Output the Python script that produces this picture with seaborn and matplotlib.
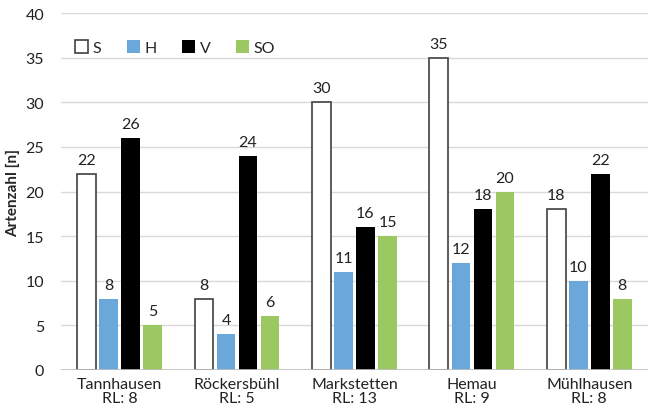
import pandas as pd
import numpy as np
import matplotlib.pyplot as plt
import seaborn as sns

# Artenzahl per site and group
sites = ['Tannhausen', 'Röckersbühl', 'Markstetten', 'Hemau', 'Mühlhausen']
rl_counts = [8, 5, 13, 9, 8]
groups = ['S', 'H', 'V', 'SO']
s_values = [22, 8, 30, 35, 18]
h_values = [8, 4, 11, 12, 10]
v_values = [26, 24, 16, 18, 22]
so_values = [5, 6, 15, 20, 8]

colors = {'S': '#FFFFFF', 'H': '#6AA8DC', 'V': '#000000', 'SO': '#9CC862'}

# long format table for seaborn
rows = []
for g, vals in zip(groups, [s_values, h_values, v_values, so_values]):
    for site, v in zip(sites, vals):
        rows.append({'Site': site, 'Gruppe': g, 'n': v})
df = pd.DataFrame(rows)

sns.set_theme(style='white')
plt.rcParams['font.family'] = ['Lato', 'DejaVu Sans']

fig = plt.figure(figsize=(6.48, 4.14), dpi=100)
ax = fig.add_axes([0.094, 0.104, 0.906, 0.862])

sns.barplot(data=df, x='Site', y='n', hue='Gruppe', hue_order=groups,
            palette=colors, saturation=1, width=0.75, gap=0.15, ax=ax,
            legend=True)

# white S bars get a dark outline
for bar in ax.patches[:len(sites)]:
    bar.set_edgecolor('#404040')
    bar.set_linewidth(1.2)
for bar in ax.patches[len(sites):len(sites) * len(groups)]:
    bar.set_linewidth(0)

for cont in ax.containers:
    ax.bar_label(cont, padding=5, fontsize=11.5, color='#222222')

ax.set_ylim(0, 40)
ax.set_yticks(range(0, 41, 5))
ax.set_xlim(-0.5, 4.5)
ax.yaxis.grid(True, color='#D9D9D9', linewidth=1)
ax.set_axisbelow(True)
for s in ['top', 'right', 'left', 'bottom']:
    ax.spines[s].set_visible(False)
ax.axhline(0, color='#BFBFBF', linewidth=1.2, zorder=1)

ax.set_xticks(range(len(sites)))
ax.set_xticklabels([f'{s}\nRL: {r}' for s, r in zip(sites, rl_counts)],
                   fontsize=11.5, linespacing=1.0)
ax.tick_params(axis='x', length=0, pad=5, colors='#222222')
ax.tick_params(axis='y', length=0, pad=12, labelsize=11.5, colors='#222222')
ax.set_xlabel('')
ax.set_ylabel('Artenzahl [n]', fontsize=11, fontweight='bold', labelpad=4)

handles, labels = ax.get_legend_handles_labels()
for h in handles:
    h.set_linewidth(0)
handles[0].set_edgecolor('#404040')
handles[0].set_linewidth(1.2)
ax.legend(handles, labels, ncol=4, loc='upper left', bbox_to_anchor=(0.005, 0.955),
          frameon=False, fontsize=11.5, handlelength=0.8, handleheight=0.8,
          handletextpad=0.3, columnspacing=1.6, borderaxespad=0.3)

plt.savefig('out.png', dpi=100)
